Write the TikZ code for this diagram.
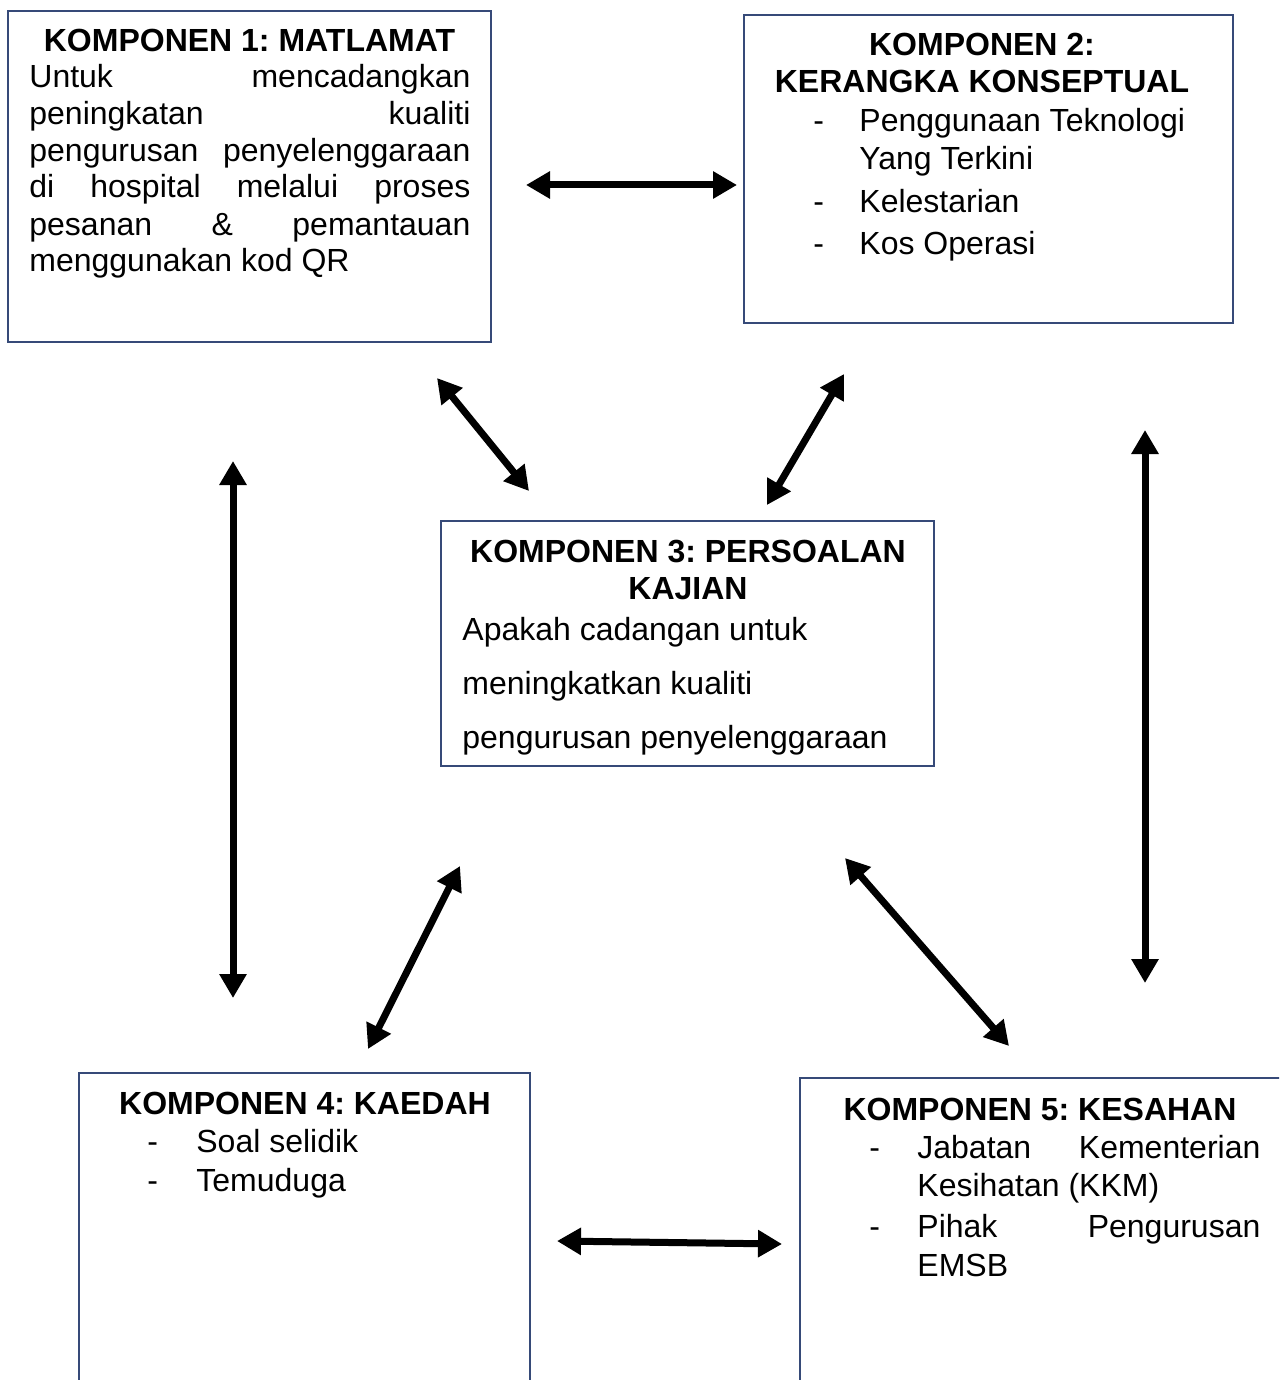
\documentclass[tikz,border=0pt]{standalone}
\usepackage{fontspec}
\setmainfont{Liberation Sans}
\usetikzlibrary{arrows.meta}
\definecolor{boxline}{RGB}{54,74,120}
\begin{document}
\begin{tikzpicture}[x=0.5pt,y=-0.5pt,
  box/.style={draw=boxline,line width=0.8pt,inner sep=0pt,outer sep=0pt,rectangle},
  ttl/.style={anchor=base,font=\fontsize{16}{18.5}\selectfont\bfseries\frenchspacing,inner sep=0pt},
  txt/.style={anchor=base west,font=\fontsize{16}{18.5}\selectfont\frenchspacing,inner sep=0pt},
  dbl/.style={{Triangle[length=12pt,width=13pt]}-{Triangle[length=12pt,width=13pt]},line width=3.5pt},
]
\useasboundingbox (0,0) rectangle (1279,1380);
\clip (0,0) rectangle (1279,1380);

% boxes
\node[box,minimum width=241.5pt,minimum height=165.5pt] (k1) at (249.5,176.5) {};
\node[box,minimum width=244.5pt,minimum height=154pt] (k2) at (988.5,169) {};
\node[box,minimum width=246.5pt,minimum height=122.5pt] (k3) at (687.5,643.5) {};
\node[box,minimum width=225.5pt,minimum height=173.5pt] (k4) at (304.5,1246.5) {};
\node[box,minimum width=260pt,minimum height=171pt] (k5) at (1060,1249) {};

% box 1
\node[ttl] (t1) at (249.5,52) {KOMPONEN 1: MATLAMAT};
\node[txt] (b1a) at (29,88) {\makebox[220.5pt][s]{Untuk mencadangkan}};
\node[txt] (b1b) at (29,125) {\makebox[220.5pt][s]{peningkatan kualiti}};
\node[txt] (b1c) at (29,162) {\makebox[220.5pt][s]{pengurusan penyelenggaraan}};
\node[txt] (b1d) at (29,198) {\makebox[220.5pt][s]{di hospital melalui proses}};
\node[txt] (b1e) at (29,235) {\makebox[220.5pt][s]{pesanan \& pemantauan}};
\node[txt] (b1f) at (29,271) {menggunakan kod QR};

% box 2
\node[ttl] (t2a) at (982,56) {KOMPONEN 2:};
\node[ttl] (t2b) at (982,93) {KERANGKA KONSEPTUAL};
\node[txt] (d2a) at (813,132) {-};
\node[txt] (b2a) at (859,132) {Penggunaan Teknologi};
\node[txt] (b2b) at (859,170) {Yang Terkini};
\node[txt] (d2c) at (813,213) {-};
\node[txt] (b2c) at (859,213) {Kelestarian};
\node[txt] (d2d) at (813,255) {-};
\node[txt] (b2d) at (859,255) {Kos Operasi};

% box 3
\node[ttl] (t3a) at (688,562) {KOMPONEN 3: PERSOALAN};
\node[ttl] (t3b) at (688,599) {KAJIAN};
\node[txt] (b3a) at (462,640) {Apakah cadangan untuk};
\node[txt] (b3b) at (462,694) {meningkatkan kualiti};
\node[txt] (b3c) at (462,748) {pengurusan penyelenggaraan};

% box 4
\node[ttl] (t4) at (305,1114) {KOMPONEN 4: KAEDAH};
\node[txt] (d4a) at (147,1152) {-};
\node[txt] (b4a) at (196,1152) {Soal selidik};
\node[txt] (d4b) at (147,1191) {-};
\node[txt] (b4b) at (196,1191) {Temuduga};

% box 5
\node[ttl] (t5) at (1040,1120) {KOMPONEN 5: KESAHAN};
\node[txt] (d5a) at (869,1158) {-};
\node[txt] (b5a) at (917,1158) {\makebox[171.5pt][s]{Jabatan Kementerian}};
\node[txt] (b5b) at (917,1196) {Kesihatan (KKM)};
\node[txt] (d5c) at (869,1237) {-};
\node[txt] (b5c) at (917,1237) {\makebox[171.5pt][s]{Pihak Pengurusan}};
\node[txt] (b5d) at (917,1276) {EMSB};

% arrow end points
\coordinate (a1s) at (526,185);  \coordinate (a1e) at (737,185);
\coordinate (a2s) at (437,378);  \coordinate (a2e) at (529,491);
\coordinate (a3s) at (844,374);  \coordinate (a3e) at (767,505);
\coordinate (a4s) at (233,461);  \coordinate (a4e) at (233,998);
\coordinate (a5s) at (1145,430); \coordinate (a5e) at (1145,983);
\coordinate (a6s) at (460,866);  \coordinate (a6e) at (368,1049);
\coordinate (a7s) at (845,858);  \coordinate (a7e) at (1009,1046);
\coordinate (a8s) at (557,1241); \coordinate (a8e) at (782,1244);

\draw[dbl] (a1s) -- (a1e);
\draw[dbl] (a2s) -- (a2e);
\draw[dbl] (a3s) -- (a3e);
\draw[dbl] (a4s) -- (a4e);
\draw[dbl] (a5s) -- (a5e);
\draw[dbl] (a6s) -- (a6e);
\draw[dbl] (a7s) -- (a7e);
\draw[dbl] (a8s) -- (a8e);
\end{tikzpicture}
\end{document}
